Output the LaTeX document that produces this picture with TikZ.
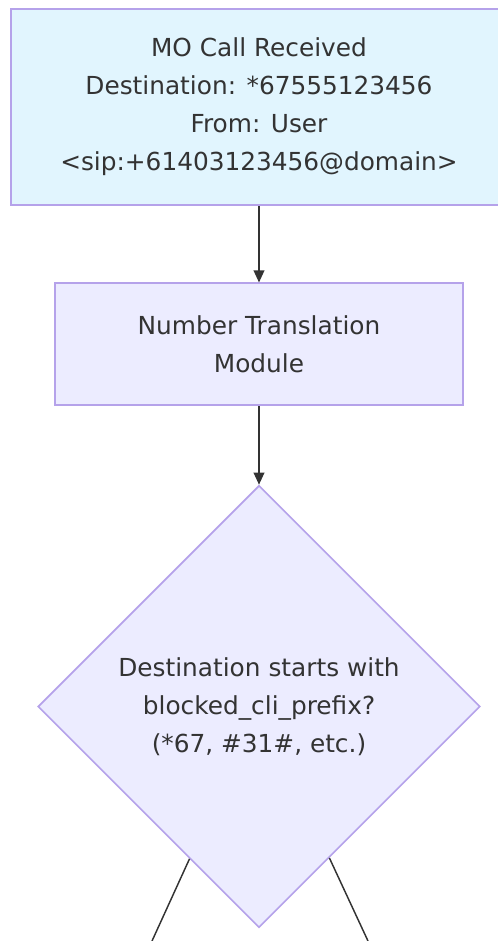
\documentclass[tikz,border=0pt]{standalone}
\usepackage{fontspec}
\setmainfont{DejaVu Sans}
\usetikzlibrary{shapes.geometric,arrows.meta,positioning}
\definecolor{callfill}{HTML}{E1F5FE}
\definecolor{boxfill}{HTML}{ECECFF}
\definecolor{boxline}{HTML}{B5A2EA}
\definecolor{ink}{HTML}{333333}
\tikzstyle{txt}=[font=\fontsize{18.6pt}{28.5pt}\selectfont,text=ink,align=center]
\tikzstyle{start}=[rectangle,draw=boxline,line width=1.2pt,fill=callfill,txt,minimum width=372pt,minimum height=147pt]
\tikzstyle{proc}=[rectangle,draw=boxline,line width=1.2pt,fill=boxfill,txt,minimum width=306pt,minimum height=91.5pt]
\tikzstyle{dec}=[diamond,draw=boxline,line width=1.2pt,fill=boxfill,txt,aspect=1,inner sep=0pt,minimum width=331.5pt,minimum height=331.5pt]
\tikzstyle{arr}=[-{Triangle[length=9pt,width=8pt]},draw=ink,line width=1.1pt]
\tikzstyle{link}=[draw=ink,line width=1.1pt]

\begin{document}
\begin{tikzpicture}[x=0.75pt,y=-0.75pt,node distance=57.5pt]
\useasboundingbox (0,0) rectangle (497,941);
\node[start] (call) at (259,107) {MO Call Received\\Destination: *67555123456\\From: User\\<sip:+61403123456@domain>};
\node[proc, below=of call] (ntm) {Number Translation\\Module};
\node[dec, below=of ntm, yshift=-1.5pt] (check) {Destination starts with\\blocked\_cli\_prefix?\\(*67, \#31\#, etc.)};
\coordinate (yesEnd) at (152,941);
\coordinate (noEnd) at (368,941);
\path[arr] (call) -- (ntm);
\path[arr] (ntm) -- (check);
\path[link] (check) -- (yesEnd);
\path[link] (check) -- (noEnd);
\end{tikzpicture}
\end{document}
